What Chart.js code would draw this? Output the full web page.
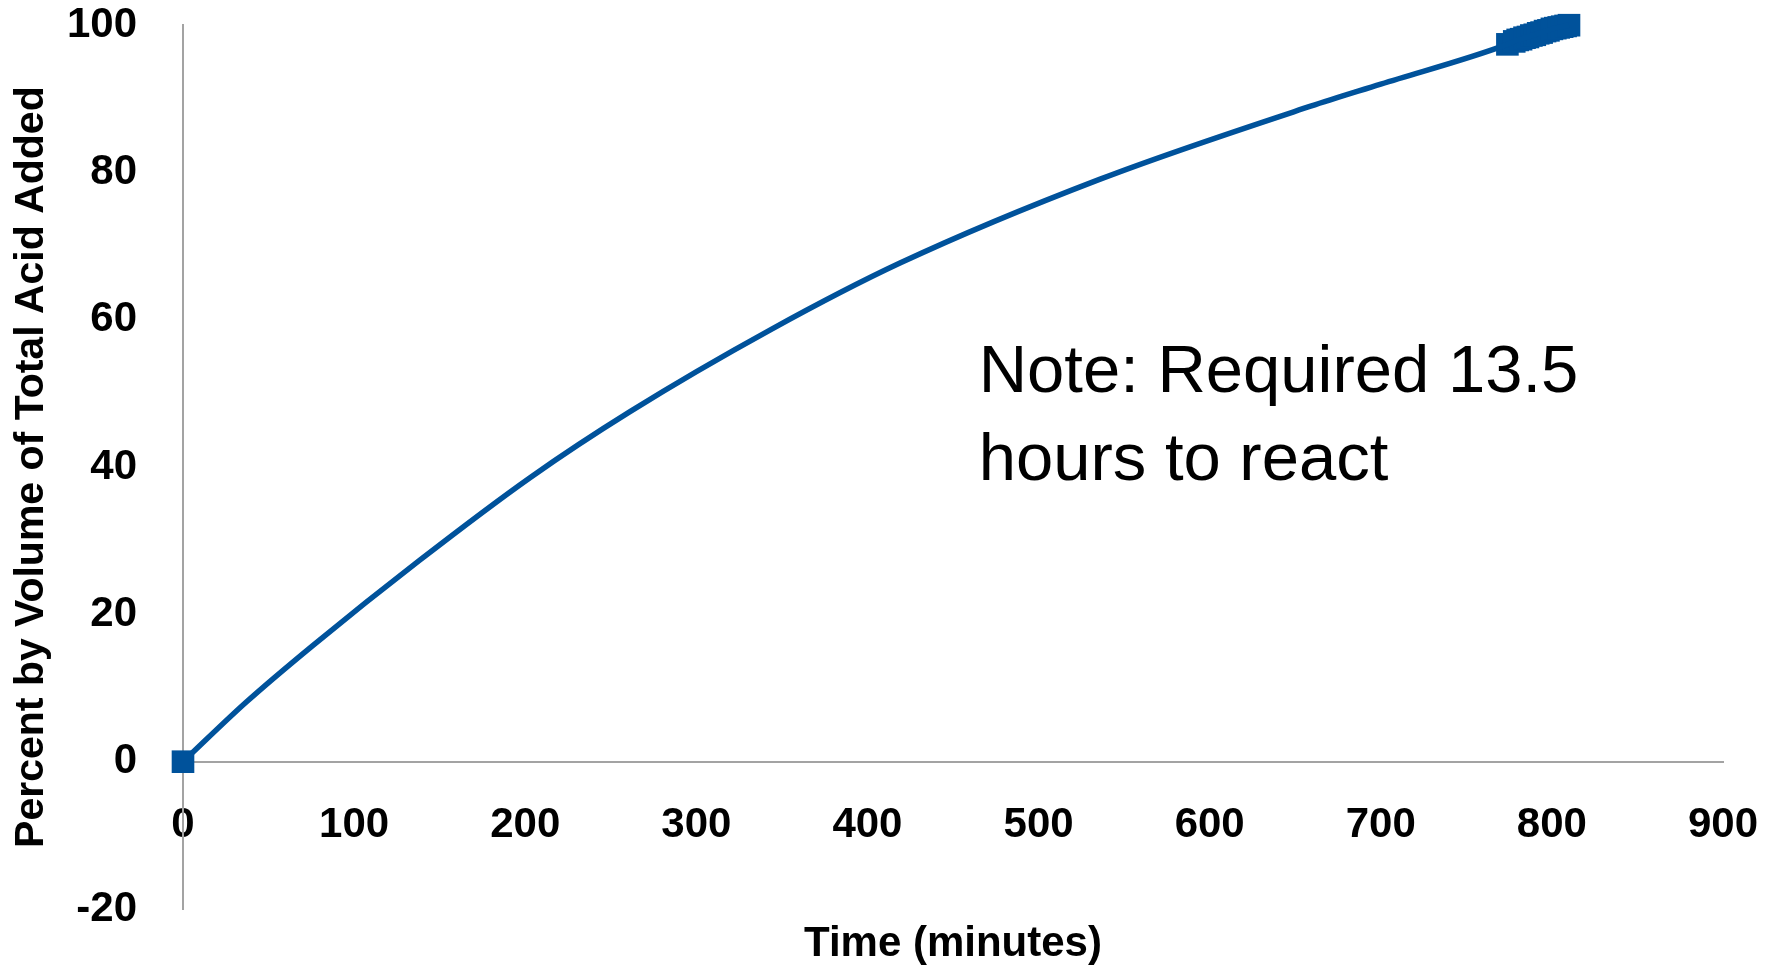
<!DOCTYPE html>
<html>
<head>
<meta charset="utf-8">
<title>Percent by Volume of Total Acid Added</title>
<script src="https://cdn.jsdelivr.net/npm/chart.js@4.4.1/dist/chart.umd.min.js"></script>
<style>
  html, body { margin: 0; padding: 0; background: #fff; }
  #wrap { width: 1781px; height: 969px; }
</style>
</head>
<body>
<div id="wrap"><canvas id="acidChart" width="1781" height="969"></canvas></div>
<script>
// Data - time (minutes) vs percent of total acid added
const startTimes = [0];
const startPct = [0];
const curveTimes = [37, 76, 138, 203, 261, 343, 419, 536, 659, 700];
const curvePct = [8.1, 15.8, 27.3, 38.6, 47.5, 58.6, 67.7, 79.1, 89.0, 92.0];
const endTimes = [774, 778, 780, 782, 784, 786, 788, 790, 792, 794, 796, 798, 800, 802, 804, 806, 808, 810];
const endPct = [97.4, 97.8, 98.0, 98.1, 98.3, 98.4, 98.6, 98.7, 98.9, 99.0, 99.2, 99.3, 99.5, 99.6, 99.7, 99.8, 99.9, 100];

const xTicks = [0, 100, 200, 300, 400, 500, 600, 700, 800, 900];
const yTicks = [-20, 0, 20, 40, 60, 80, 100];

const noteLines = ["Note: Required 13.5", "hours to react"];

const toPoints = (xs, ys) => xs.map((x, i) => ({ x: x, y: ys[i] }));

const markerPoints = toPoints(startTimes, startPct).concat(toPoints(endTimes, endPct));
const linePoints = toPoints(startTimes, startPct)
  .concat(toPoints(curveTimes, curvePct))
  .concat(toPoints(endTimes, endPct));

const blue = "#00529b";
const axisGray = "#a3a3a3";

Chart.defaults.font.family = "'Liberation Sans', Arial, sans-serif";
Chart.defaults.color = "#000";

// text note drawn inside the plot, anchored in data units
const notePlugin = {
  id: "note",
  afterDatasetsDraw(chart, args, opts) {
    const ctx = chart.ctx;
    const x = chart.scales.x.getPixelForValue(opts.x);
    const y = chart.scales.y.getPixelForValue(opts.y);
    ctx.save();
    ctx.font = "67px 'Liberation Sans', Arial, sans-serif";
    ctx.fillStyle = "#000";
    ctx.textBaseline = "alphabetic";
    ctx.textAlign = "left";
    opts.lines.forEach((line, i) => ctx.fillText(line, x, y + i * opts.lineHeight));
    ctx.restore();
  }
};

new Chart(document.getElementById("acidChart"), {
  type: "scatter",
  data: {
    datasets: [{
      label: "Acid added (curve)",
      data: linePoints,
      showLine: true,
      borderColor: blue,
      borderWidth: 5.5,
      pointRadius: 0,
      cubicInterpolationMode: "monotone",
      clip: false
    }, {
      label: "Acid added (readings)",
      data: markerPoints,
      showLine: false,
      pointStyle: "rect",
      pointRadius: 16,
      pointBackgroundColor: blue,
      pointBorderWidth: 0,
      clip: false
    }]
  },
  options: {
    responsive: false,
    animation: false,
    layout: { padding: { top: 25, left: 7, right: 58, bottom: 60 } },
    plugins: {
      legend: { display: false },
      tooltip: { enabled: false },
      note: { lines: noteLines, x: 465, y: 50.2, lineHeight: 88 }
    },
    scales: {
      x: {
        type: "linear",
        position: { y: 0 },
        min: 0,
        max: 900,
        afterBuildTicks: s => { s.ticks = xTicks.map(v => ({ value: v })); },
        afterFit: s => { s.height = 208; },
        // tick marks hidden, tickLength only used as label offset
        grid: { display: false, drawTicks: true, tickLength: 39 },
        border: { display: true, color: axisGray, width: 2 },
        ticks: { padding: 0, font: { size: 42, weight: "bold" }, maxRotation: 0 },
        title: {
          display: true,
          text: "Time (minutes)",
          font: { size: 42, weight: "bold" },
          padding: { top: 0, bottom: 0 }
        }
      },
      y: {
        type: "linear",
        position: "left",
        min: -20,
        max: 100,
        afterBuildTicks: s => { s.ticks = yTicks.map(v => ({ value: v })); },
        afterFit: s => { s.width = 176; },
        grid: { display: false, drawTicks: true, tickLength: 46 },
        border: { display: true, color: axisGray, width: 2 },
        ticks: { padding: 0, font: { size: 42, weight: "bold" } },
        title: {
          display: true,
          text: "Percent by Volume of Total Acid Added",
          font: { size: 41, weight: "bold" },
          padding: { top: 0, bottom: 0 }
        }
      }
    }
  },
  plugins: [notePlugin]
});
</script>
</body>
</html>
